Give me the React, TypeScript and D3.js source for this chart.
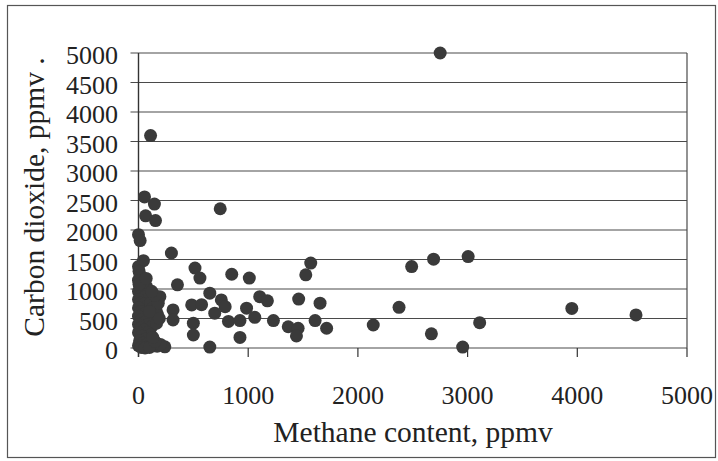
import React, { useEffect, useRef } from 'react';
import * as d3 from 'd3';

// methane content (ppmv), carbon dioxide (ppmv)
const samples: [number, number][] = [
  [2750, 5000], [110, 3600], [55, 2560], [145, 2440], [65, 2240], [155, 2160],
  [745, 2360], [0, 1920], [15, 1820], [300, 1610], [45, 1480], [515, 1355],
  [560, 1185], [850, 1250], [355, 1070], [1010, 1185], [1570, 1440], [1525, 1240],
  [195, 870], [485, 730], [575, 735], [650, 930], [755, 815], [790, 700],
  [695, 590], [820, 450], [315, 645], [315, 475], [500, 420], [500, 220],
  [240, 20], [650, 15], [1105, 870], [1175, 800], [1460, 830], [1655, 760],
  [985, 675], [1060, 520], [925, 465], [1230, 465], [1365, 360], [1455, 335],
  [1440, 205], [1610, 465], [1715, 335], [925, 180], [2490, 1380], [2690, 1505],
  [3005, 1550], [2375, 690], [2140, 390], [2670, 240], [3110, 430], [2955, 15],
  [3950, 670], [4535, 560],
  // dense cluster near zero methane
  [0, 1380], [5, 1300], [15, 1230], [0, 1150], [25, 1080], [45, 1010], [70, 1050],
  [0, 960], [30, 900], [60, 870], [90, 830], [0, 820], [20, 760], [50, 740],
  [80, 700], [110, 760], [130, 680], [160, 640], [175, 560], [0, 680], [25, 620],
  [55, 580], [85, 540], [115, 500], [145, 460], [0, 540], [30, 480], [60, 440],
  [90, 400], [120, 360], [0, 400], [20, 340], [50, 300], [80, 260], [110, 220],
  [0, 260], [30, 200], [60, 150], [10, 120], [40, 80], [80, 60], [110, 45],
  [140, 40], [170, 30], [0, 40], [25, 10], [60, 0], [100, 10], [200, 60],
  [150, 110], [130, 180], [165, 420], [180, 760], [150, 890], [5, 1080],
  [190, 500], [100, 620], [70, 1180], [120, 960],
];

const xTicks = [0, 1000, 2000, 3000, 4000, 5000];
const yTicks = [0, 500, 1000, 1500, 2000, 2500, 3000, 3500, 4000, 4500, 5000];

const App = () => {
  const svgRef = useRef<SVGSVGElement>(null);

  useEffect(() => {
    const width = 718;
    const height = 461;
    const svg = d3.select(svgRef.current);
    svg.selectAll('*').remove();
    svg.attr('width', width).attr('height', height);

    const font = '"Liberation Serif", "Times New Roman", serif';
    const ink = '#222';
    const line = '#4a4a4a';

    const x = d3.scaleLinear().domain([0, 5000]).range([138.5, 687]);
    const y = d3.scaleLinear().domain([0, 5000]).range([348, 53]);

    svg.append('rect')
      .attr('width', width).attr('height', height).attr('fill', '#fff');

    // outer chart frame
    svg.append('rect')
      .attr('x', 7.5).attr('y', 5.5)
      .attr('width', 708).attr('height', 452)
      .attr('fill', 'none').attr('stroke', '#555').attr('stroke-width', 1.2);

    // horizontal gridlines + y ticks
    svg.append('g')
      .selectAll('line')
      .data(yTicks)
      .enter().append('line')
      .attr('x1', x(0) - 8).attr('x2', x(5000))
      .attr('y1', d => y(d)).attr('y2', d => y(d))
      .attr('stroke', line).attr('stroke-width', 1.2);

    // right border of plot area
    svg.append('line')
      .attr('x1', x(5000)).attr('x2', x(5000))
      .attr('y1', y(5000)).attr('y2', y(0))
      .attr('stroke', line).attr('stroke-width', 1.2);

    // y axis
    svg.append('line')
      .attr('x1', x(0)).attr('x2', x(0))
      .attr('y1', y(5000)).attr('y2', y(0) + 9)
      .attr('stroke', '#333').attr('stroke-width', 1.4);

    // x ticks
    svg.append('g')
      .selectAll('line')
      .data(xTicks)
      .enter().append('line')
      .attr('x1', d => x(d)).attr('x2', d => x(d))
      .attr('y1', y(0)).attr('y2', y(0) + 9)
      .attr('stroke', '#333').attr('stroke-width', 1.2);

    // tick labels
    svg.append('g')
      .selectAll('text')
      .data(yTicks)
      .enter().append('text')
      .attr('x', 118)
      .attr('y', d => y(d) + 11)
      .attr('text-anchor', 'end')
      .attr('font-family', font)
      .attr('font-size', '26px')
      .attr('fill', ink)
      .text(d => String(d));

    svg.append('g')
      .selectAll('text')
      .data(xTicks)
      .enter().append('text')
      .attr('x', d => x(d))
      .attr('y', 404)
      .attr('text-anchor', 'middle')
      .attr('font-family', font)
      .attr('font-size', '26px')
      .attr('fill', ink)
      .text(d => String(d));

    // axis titles
    svg.append('text')
      .attr('x', 413).attr('y', 442)
      .attr('text-anchor', 'middle')
      .attr('font-family', font)
      .attr('font-size', '29.5px')
      .attr('fill', ink)
      .text('Methane content, ppmv');

    svg.append('text')
      .attr('transform', `translate(44, 197) rotate(-90)`)
      .attr('text-anchor', 'middle')
      .attr('font-family', font)
      .attr('font-size', '29.5px')
      .attr('fill', ink)
      .text('Carbon dioxide, ppmv .');

    // points
    svg.append('g')
      .selectAll('circle')
      .data(samples)
      .enter().append('circle')
      .attr('cx', d => x(d[0]))
      .attr('cy', d => y(d[1]))
      .attr('r', 6.5)
      .attr('fill', '#3a3a3a');
  }, []);

  return (
    <svg ref={svgRef} style={{ position: 'absolute', left: 0, top: 0 }}></svg>
  );
};

export default App;
